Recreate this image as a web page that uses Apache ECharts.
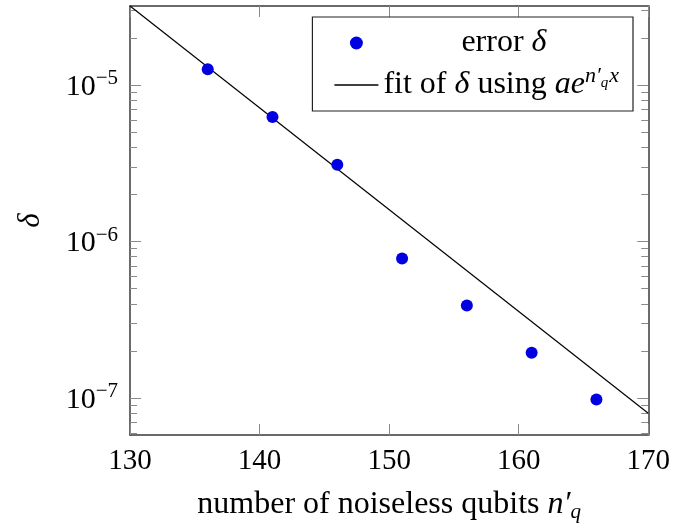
<!DOCTYPE html>
<html>
<head>
<meta charset="utf-8">
<script src="https://cdn.jsdelivr.net/npm/echarts@6/dist/echarts.min.js"></script>
<style>
  html, body { margin: 0; padding: 0; background: #fff; }
  #chart { width: 673px; height: 528px; }
</style>
</head>
<body>
<div id="chart"></div>
<script>
// measured error delta vs number of noiseless qubits
const errX = [136, 141, 146, 151, 156, 161, 166]
const errY = [1.26e-5, 6.25e-6, 3.1e-6, 7.8e-7, 3.9e-7, 1.95e-7, 9.8e-8]
// exponential fit, straight line in log scale (end points)
const fitX = [130, 170]
const fitY = [3.2e-5, 8.0e-8]
// axis ticks
const xTicks = [130, 140, 150, 160, 170]
const yDecades = [-7, -6, -5]
const minorMult = [2, 3, 4, 5, 6, 7, 8, 9]

const FONT = 'Liberation Serif'
const frame = '#3a3a3a'
const tickColor = '#8a8a8a'

// minor ticks of the log axis
const yMinor = []
;[-8, -7, -6, -5].forEach((d) => {
  minorMult.forEach((m) => yMinor.push(d + Math.log10(m)))
})

const chart = echarts.init(document.getElementById('chart'))

const yBase = {
  type: 'value',
  min: -7.236,
  max: -4.495,
  gridIndex: 0,
  splitLine: { show: false }
}

const option = {
  animation: false,
  backgroundColor: '#fff',
  grid: { left: 130, right: 24, top: 6, bottom: 92 },
  legend: {
    orient: 'vertical',
    right: 40,
    top: 17,
    padding: [10, 14, 10, 22],
    itemGap: 6,
    itemWidth: 44,
    itemHeight: 13,
    borderColor: '#222',
    borderWidth: 1.2,
    backgroundColor: '#fff',
    textStyle: {
      fontFamily: FONT,
      fontSize: 32,
      color: '#000',
      rich: {
        t: { fontFamily: FONT, fontSize: 32, color: '#000' },
        i: { fontFamily: FONT, fontSize: 32, fontStyle: 'italic', color: '#000' },
        s: { fontFamily: FONT, fontSize: 22, fontStyle: 'italic', color: '#000', padding: [0, 0, 18, 0] },
        ss: { fontFamily: FONT, fontSize: 15, fontStyle: 'italic', color: '#000', padding: [0, 1, 4, 0] }
      }
    },
    data: [
      { name: 'error', icon: 'circle', textStyle: { padding: [0, 0, 0, 78] } },
      { name: 'fit', icon: 'path://M0,0h40v1.3h-40z' }
    ],
    formatter: (name) => {
      if (name === 'error') return '{t|error }{i|δ}'
      return '{t|fit of }{i|δ}{t| using }{i|ae}{s|n′}{ss|q}{s|x}'
    }
  },
  xAxis: [
    {
      type: 'value',
      position: 'bottom',
      min: 130,
      max: 170,
      interval: 10,
      axisLine: { show: true, lineStyle: { color: frame, width: 1.5 } },
      axisTick: { inside: true, length: 11, lineStyle: { color: tickColor, width: 1 } },
      axisLabel: { fontFamily: FONT, fontSize: 29, color: '#000', margin: 12, customValues: xTicks },
      splitLine: { show: false },
      name: '{t|number of noiseless qubits }{i|n′}{q|q}',
      nameLocation: 'middle',
      nameGap: 51,
      nameTextStyle: {
        rich: {
          t: { fontFamily: FONT, fontSize: 32, color: '#000' },
          i: { fontFamily: FONT, fontSize: 32, fontStyle: 'italic', color: '#000' },
          q: { fontFamily: FONT, fontSize: 21, fontStyle: 'italic', color: '#000', padding: [16, 0, 0, 0] }
        }
      }
    },
    {
      type: 'value',
      position: 'top',
      min: 130,
      max: 170,
      interval: 10,
      axisLine: { show: true, lineStyle: { color: frame, width: 1.5 } },
      axisTick: { inside: true, length: 11, lineStyle: { color: tickColor, width: 1 } },
      axisLabel: { show: false },
      splitLine: { show: false }
    }
  ],
  yAxis: [
    Object.assign({}, yBase, {
      position: 'left',
      axisLine: { show: true, lineStyle: { color: frame, width: 1.5 } },
      axisTick: { inside: true, length: 11, customValues: yDecades, lineStyle: { color: tickColor, width: 1 } },
      axisLabel: {
        customValues: yDecades,
        margin: 12,
        formatter: (v) => '{b|10}{e|−' + Math.abs(Math.round(v)) + '}',
        rich: {
          b: { fontFamily: FONT, fontSize: 30, color: '#000', verticalAlign: 'bottom', lineHeight: 34 },
          e: { fontFamily: FONT, fontSize: 21, color: '#000', verticalAlign: 'top', lineHeight: 34 }
        }
      },
      name: 'δ',
      nameLocation: 'middle',
      nameRotate: 90,
      nameGap: 84,
      nameTextStyle: { fontFamily: FONT, fontSize: 31, fontStyle: 'italic', color: '#000' }
    }),
    Object.assign({}, yBase, {
      position: 'left',
      axisLine: { show: false },
      axisTick: { inside: true, length: 7, customValues: yMinor, lineStyle: { color: tickColor, width: 1 } },
      axisLabel: { show: false }
    }),
    Object.assign({}, yBase, {
      position: 'right',
      axisLine: { show: true, lineStyle: { color: frame, width: 1.5 } },
      axisTick: { inside: true, length: 11, customValues: yDecades, lineStyle: { color: tickColor, width: 1 } },
      axisLabel: { show: false }
    }),
    Object.assign({}, yBase, {
      position: 'right',
      axisLine: { show: false },
      axisTick: { inside: true, length: 7, customValues: yMinor, lineStyle: { color: tickColor, width: 1 } },
      axisLabel: { show: false }
    })
  ],
  series: [
    {
      name: 'error',
      type: 'scatter',
      xAxisIndex: 0,
      yAxisIndex: 0,
      symbol: 'circle',
      symbolSize: 12,
      itemStyle: { color: '#0000e0', opacity: 1 },
      data: errX.map((x, i) => [x, Math.log10(errY[i])]),
      z: 3
    },
    {
      name: 'fit',
      type: 'line',
      xAxisIndex: 0,
      yAxisIndex: 0,
      symbol: 'none',
      clip: true,
      lineStyle: { color: '#000', width: 1.2 },
      itemStyle: { color: '#000' },
      data: fitX.map((x, i) => [x, Math.log10(fitY[i])]),
      z: 2
    }
  ]
}

chart.setOption(option)
</script>
</body>
</html>
